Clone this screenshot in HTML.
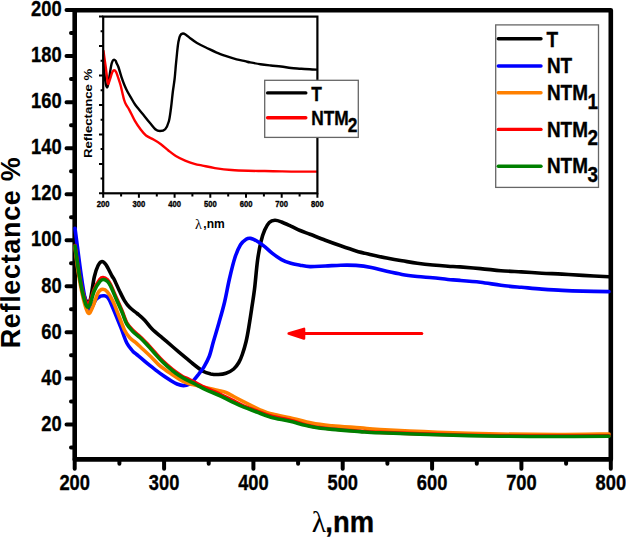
<!DOCTYPE html>
<html><head><meta charset="utf-8"><title>Reflectance</title>
<style>html,body{margin:0;padding:0;background:#fff;width:626px;height:537px;overflow:hidden}svg{display:block}</style>
</head><body>
<svg width="626" height="537" viewBox="0 0 626 537">
<rect width="626" height="537" fill="#fff"/>
<rect x="74.7" y="10.2" width="536.1" height="449.2" fill="none" stroke="#000" stroke-width="4.6" stroke-linejoin="round"/>
<path d="M66.5,424.4H74 M66.5,378.4H74 M66.5,332.3H74 M66.5,286.3H74 M66.5,240.3H74 M66.5,194.2H74 M66.5,148.2H74 M66.5,102.2H74 M66.5,56.1H74 M66.5,10.1H74 M71,447.4H74 M71,401.4H74 M71,355.3H74 M71,309.3H74 M71,263.3H74 M71,217.2H74 M71,171.2H74 M71,125.2H74 M71,79.1H74 M71,33.1H74 M74.7,459V468.7 M164.1,459V468.7 M253.4,459V468.7 M342.7,459V468.7 M432.1,459V468.7 M521.4,459V468.7 M610.8,459V468.7 M119.4,459V463.8 M208.7,459V463.8 M298.1,459V463.8 M387.4,459V463.8 M476.8,459V463.8 M566.1,459V463.8" stroke="#000" stroke-width="4" stroke-linecap="round" fill="none"/>
<path d="M75.5,249.0 C76.0,252.5 77.4,263.3 78.5,270.0 C79.6,276.7 80.8,284.1 82.0,289.0 C83.2,293.9 84.5,297.2 85.5,299.5 C86.5,301.8 87.0,302.7 87.8,302.5 C88.6,302.3 89.5,302.8 90.6,298.5 C91.7,294.2 93.0,282.5 94.3,277.0 C95.5,271.5 96.8,268.1 98.1,265.5 C99.4,262.9 100.7,261.6 102.0,261.5 C103.3,261.4 104.3,262.4 106.0,264.8 C107.7,267.2 110.5,273.4 112.0,276.0 C113.5,278.6 113.5,278.0 114.7,280.5 C115.9,283.0 117.8,287.4 119.4,290.8 C121.1,294.2 122.9,298.1 124.6,300.9 C126.3,303.7 127.7,305.5 129.8,307.6 C131.9,309.7 134.7,311.4 137.2,313.5 C139.7,315.6 142.2,317.6 144.7,320.2 C147.2,322.8 149.1,326.0 152.1,329.0 C155.1,332.0 159.1,335.1 162.6,338.1 C166.1,341.1 169.1,343.7 173.0,347.0 C176.9,350.3 182.6,355.1 185.9,357.9 C189.2,360.6 189.8,361.3 192.6,363.5 C195.4,365.7 200.0,369.5 203.0,371.2 C206.0,372.9 208.1,373.3 210.7,373.9 C213.2,374.4 215.8,374.6 218.3,374.5 C220.9,374.4 223.4,374.2 226.0,373.3 C228.6,372.4 231.6,370.8 233.7,369.0 C235.8,367.2 237.4,364.9 238.8,362.5 C240.2,360.1 241.1,358.0 242.3,354.5 C243.5,351.0 245.0,346.1 246.1,341.5 C247.2,336.9 248.0,332.1 248.9,326.6 C249.8,321.1 250.8,314.7 251.7,308.5 C252.6,302.3 253.5,297.4 254.5,289.3 C255.5,281.2 256.5,268.0 257.6,260.0 C258.7,252.0 259.8,246.5 261.0,241.5 C262.2,236.5 263.3,233.2 264.7,230.0 C266.1,226.8 267.6,224.1 269.3,222.5 C271.0,220.9 272.9,220.4 274.9,220.3 C276.9,220.2 278.9,221.0 281.5,222.0 C284.1,223.0 287.7,224.7 290.8,226.1 C293.9,227.5 296.9,229.1 300.1,230.5 C303.3,231.9 305.8,232.7 310.0,234.3 C314.2,235.9 320.2,238.3 325.3,240.2 C330.4,242.1 335.6,244.0 340.7,245.8 C345.8,247.6 350.9,249.4 356.0,250.9 C361.1,252.4 366.2,253.5 371.3,254.7 C376.4,255.9 381.6,257.1 386.7,258.1 C391.8,259.1 396.9,260.0 402.0,260.8 C407.1,261.6 412.2,262.5 417.3,263.2 C422.4,263.9 427.6,264.5 432.7,265.0 C437.8,265.5 443.4,265.9 448.0,266.2 C452.6,266.5 454.6,266.5 460.0,266.9 C465.4,267.3 473.6,268.0 480.4,268.6 C487.2,269.2 494.1,270.1 500.9,270.7 C507.7,271.2 514.5,271.5 521.3,271.9 C528.1,272.3 535.0,272.8 541.8,273.2 C548.6,273.6 555.4,273.7 562.2,274.1 C569.0,274.5 574.9,274.9 582.7,275.4 C590.5,275.8 604.6,276.6 609.0,276.8" stroke="#000" stroke-width="3.6" fill="none" stroke-linejoin="round" stroke-linecap="round"/>
<path d="M75.0,228.2 C75.4,231.5 76.5,240.0 77.6,248.0 C78.6,256.0 80.1,267.6 81.3,276.0 C82.5,284.4 83.8,292.7 85.0,298.2 C86.2,303.7 87.5,307.2 88.5,309.0 C89.5,310.8 89.8,310.6 91.0,309.0 C92.2,307.4 94.4,301.6 96.0,299.5 C97.6,297.4 99.1,296.8 100.5,296.2 C101.9,295.6 103.2,295.7 104.3,295.8 C105.4,295.9 106.1,296.1 107.0,296.8 C107.9,297.5 108.2,297.5 109.5,300.2 C110.8,302.9 113.0,308.2 114.9,312.8 C116.8,317.4 118.9,322.7 120.9,327.7 C122.9,332.7 124.8,339.1 126.8,343.0 C128.8,346.9 131.2,349.3 132.8,351.2 C134.5,353.1 134.9,353.0 136.7,354.5 C138.5,356.0 141.2,358.2 143.4,360.1 C145.6,362.0 147.9,363.9 150.1,365.7 C152.3,367.5 154.6,369.1 156.8,370.8 C159.0,372.5 161.2,374.2 163.5,375.8 C165.8,377.4 168.1,378.9 170.3,380.3 C172.6,381.7 174.8,383.1 177.0,384.0 C179.2,384.9 181.4,385.6 183.5,385.6 C185.6,385.6 187.6,385.1 189.3,384.2 C191.0,383.3 192.1,382.0 193.7,380.3 C195.3,378.6 197.1,376.2 198.8,374.0 C200.5,371.8 202.3,369.7 204.0,366.8 C205.7,363.9 207.6,360.6 209.2,356.5 C210.8,352.4 211.7,347.6 213.3,342.0 C214.9,336.4 217.0,329.7 218.9,323.0 C220.8,316.3 222.9,309.2 224.6,302.0 C226.3,294.8 227.6,286.9 229.3,279.5 C231.0,272.1 233.0,263.5 234.9,257.7 C236.8,251.9 238.6,247.8 240.5,244.7 C242.4,241.6 244.4,240.4 246.1,239.3 C247.8,238.2 248.8,238.1 250.7,238.4 C252.5,238.7 254.9,239.9 257.2,241.3 C259.5,242.7 262.2,244.6 264.7,246.6 C267.2,248.6 269.3,250.9 272.1,253.1 C274.9,255.3 278.4,257.9 281.5,259.6 C284.6,261.3 287.7,262.4 290.8,263.3 C293.9,264.2 296.9,264.6 300.1,265.2 C303.3,265.8 305.8,266.5 310.0,266.6 C314.2,266.7 320.2,266.2 325.3,266.0 C330.4,265.8 335.6,265.3 340.7,265.2 C345.8,265.1 350.9,265.0 356.0,265.4 C361.1,265.8 366.2,266.5 371.3,267.5 C376.4,268.5 381.6,270.2 386.7,271.3 C391.8,272.4 396.9,273.5 402.0,274.4 C407.1,275.3 412.2,275.9 417.3,276.5 C422.4,277.1 427.6,277.2 432.7,277.7 C437.8,278.2 443.4,279.1 448.0,279.5 C452.6,279.9 454.6,279.9 460.0,280.4 C465.4,280.8 473.6,281.4 480.4,282.2 C487.2,283.0 494.1,284.4 500.9,285.3 C507.7,286.2 514.5,286.7 521.3,287.3 C528.1,287.9 535.0,288.6 541.8,289.1 C548.6,289.6 555.4,290.1 562.2,290.4 C569.0,290.7 574.9,290.9 582.7,291.1 C590.5,291.3 604.6,291.5 609.0,291.6" stroke="#0000ff" stroke-width="3.6" fill="none" stroke-linejoin="round" stroke-linecap="round"/>
<path d="M75.0,247.0 C75.6,251.5 77.1,265.5 78.5,274.0 C79.9,282.5 81.6,291.7 83.2,298.2 C84.8,304.7 86.7,311.4 88.2,313.0 C89.8,314.6 90.8,310.9 92.5,307.5 C94.2,304.1 96.4,295.7 98.1,292.6 C99.8,289.6 101.2,289.3 102.7,289.2 C104.2,289.1 105.6,289.7 107.4,291.9 C109.2,294.1 111.4,298.1 113.4,302.3 C115.4,306.5 117.5,312.6 119.4,317.2 C121.3,321.8 122.9,326.8 124.6,330.2 C126.3,333.6 127.9,335.7 129.8,337.8 C131.7,339.9 133.6,340.7 135.8,342.6 C138.0,344.6 140.6,347.1 143.2,349.5 C145.8,351.9 148.5,354.4 151.2,357.0 C153.8,359.6 156.7,363.0 159.1,365.2 C161.5,367.4 163.6,368.6 165.8,370.2 C168.0,371.8 170.3,373.2 172.5,374.7 C174.7,376.2 177.0,377.8 179.2,379.1 C181.4,380.4 183.7,381.6 185.9,382.5 C188.1,383.4 190.2,383.9 192.6,384.5 C194.9,385.1 197.0,385.6 200.0,386.3 C203.0,387.0 207.8,388.1 210.8,388.8 C213.9,389.5 215.8,390.0 218.3,390.6 C220.8,391.2 223.4,391.5 226.0,392.5 C228.6,393.5 230.7,394.9 233.7,396.5 C236.7,398.1 241.1,400.4 243.9,401.8 C246.7,403.2 247.7,403.7 250.4,405.0 C253.1,406.3 256.6,408.3 260.0,409.8 C263.4,411.3 265.9,412.5 270.9,413.8 C275.9,415.1 283.2,416.1 290.0,417.7 C296.8,419.2 304.8,421.8 311.8,423.1 C318.8,424.5 324.2,425.0 332.2,425.8 C340.2,426.6 352.0,427.2 360.0,427.8 C368.0,428.4 367.1,428.9 380.0,429.6 C392.9,430.3 417.5,431.5 437.5,432.2 C457.5,432.9 480.0,433.6 500.0,434.0 C520.0,434.4 539.3,434.6 557.5,434.6 C575.7,434.6 600.4,434.1 609.0,434.0" stroke="#ff8000" stroke-width="3.6" fill="none" stroke-linejoin="round" stroke-linecap="round"/>
<path d="M75.0,245.5 C75.6,249.5 77.3,262.1 78.5,269.5 C79.7,276.9 81.0,284.3 82.2,289.8 C83.5,295.3 84.8,300.3 86.0,302.3 C87.2,304.3 88.3,304.2 89.7,302.0 C91.1,299.8 92.6,293.0 94.3,289.2 C96.0,285.4 98.5,281.2 99.9,279.3 C101.4,277.4 101.7,277.4 103.0,277.5 C104.3,277.6 106.3,278.7 107.5,279.8 C108.7,280.9 108.9,281.3 110.4,284.3 C111.9,287.3 114.4,293.5 116.4,298.0 C118.4,302.5 120.6,307.4 122.3,311.5 C124.0,315.6 125.0,319.7 126.8,322.8 C128.6,325.9 130.6,328.0 132.8,330.3 C135.0,332.6 137.7,334.5 140.2,336.8 C142.7,339.1 145.1,341.6 147.7,344.3 C150.3,347.1 153.2,350.6 155.7,353.3 C158.1,356.0 160.2,358.4 162.4,360.6 C164.6,362.8 166.9,364.7 169.1,366.6 C171.3,368.5 173.6,370.4 175.8,372.0 C178.1,373.6 180.3,375.2 182.6,376.5 C184.8,377.8 187.1,378.4 189.3,379.5 C191.5,380.6 193.2,381.4 195.9,382.8 C198.6,384.2 201.9,386.1 205.6,387.9 C209.3,389.6 214.1,391.4 218.3,393.3 C222.6,395.2 226.8,397.5 231.1,399.6 C235.4,401.7 239.6,404.2 243.9,406.1 C248.2,408.0 252.2,409.2 256.7,410.9 C261.2,412.6 265.3,414.6 270.9,416.1 C276.4,417.7 283.2,418.5 290.0,420.2 C296.8,421.9 304.8,424.8 311.8,426.3 C318.8,427.8 324.2,428.2 332.2,429.0 C340.2,429.8 352.0,430.6 360.0,431.2 C368.0,431.8 367.1,431.9 380.0,432.4 C392.9,432.9 417.5,433.8 437.5,434.4 C457.5,435.0 480.0,435.5 500.0,435.8 C520.0,436.1 539.3,436.1 557.5,436.1 C575.7,436.1 600.4,435.9 609.0,435.8" stroke="#ff0000" stroke-width="3.6" fill="none" stroke-linejoin="round" stroke-linecap="round"/>
<path d="M75.0,246.0 C75.6,250.1 77.3,262.8 78.5,270.3 C79.7,277.8 80.9,284.9 82.2,290.8 C83.5,296.7 85.2,303.4 86.5,305.8 C87.8,308.2 88.4,307.5 89.7,305.0 C91.0,302.5 92.6,294.7 94.3,290.8 C96.0,286.9 98.4,283.4 99.9,281.5 C101.4,279.6 102.2,279.5 103.5,279.5 C104.8,279.5 106.3,280.4 107.5,281.5 C108.7,282.6 108.9,282.8 110.4,285.8 C111.9,288.8 114.4,294.9 116.4,299.4 C118.4,303.9 120.6,308.7 122.3,312.8 C124.0,316.9 125.0,320.9 126.8,324.0 C128.6,327.1 130.6,329.1 132.8,331.4 C135.0,333.7 137.7,335.4 140.2,337.8 C142.7,340.2 145.1,342.7 147.7,345.5 C150.3,348.3 153.2,351.9 155.7,354.6 C158.1,357.3 160.2,359.6 162.4,361.8 C164.6,364.0 166.9,365.9 169.1,367.8 C171.3,369.7 173.6,371.6 175.8,373.2 C178.1,374.8 180.3,376.3 182.6,377.6 C184.8,378.9 187.1,380.1 189.3,381.2 C191.5,382.3 193.2,383.1 195.9,384.5 C198.6,385.9 201.9,387.9 205.6,389.6 C209.3,391.4 214.1,393.1 218.3,395.0 C222.6,396.9 226.8,399.3 231.1,401.3 C235.4,403.3 239.6,405.4 243.9,407.2 C248.2,409.0 252.2,410.3 256.7,412.0 C261.2,413.7 265.3,415.6 270.9,417.2 C276.4,418.8 283.2,419.7 290.0,421.3 C296.8,422.9 304.8,425.4 311.8,426.7 C318.8,428.0 324.2,428.6 332.2,429.4 C340.2,430.2 352.0,431.0 360.0,431.6 C368.0,432.2 367.1,432.3 380.0,432.8 C392.9,433.3 417.5,434.2 437.5,434.8 C457.5,435.4 480.0,435.9 500.0,436.2 C520.0,436.5 539.3,436.5 557.5,436.5 C575.7,436.5 600.4,436.2 609.0,436.2" stroke="#008000" stroke-width="3.6" fill="none" stroke-linejoin="round" stroke-linecap="round"/>
<g font-family='"Liberation Sans", sans-serif' font-weight="bold" fill="#000" stroke="#000" stroke-width="0.35">
<text transform="translate(61.60,430.60) scale(0.825,1)" font-size="22.20" text-anchor="end">20</text>
<text transform="translate(61.60,384.57) scale(0.825,1)" font-size="22.20" text-anchor="end">40</text>
<text transform="translate(61.60,338.53) scale(0.825,1)" font-size="22.20" text-anchor="end">60</text>
<text transform="translate(61.60,292.50) scale(0.825,1)" font-size="22.20" text-anchor="end">80</text>
<text transform="translate(61.60,246.47) scale(0.825,1)" font-size="22.20" text-anchor="end">100</text>
<text transform="translate(61.60,200.43) scale(0.825,1)" font-size="22.20" text-anchor="end">120</text>
<text transform="translate(61.60,154.40) scale(0.825,1)" font-size="22.20" text-anchor="end">140</text>
<text transform="translate(61.60,108.37) scale(0.825,1)" font-size="22.20" text-anchor="end">160</text>
<text transform="translate(61.60,62.33) scale(0.825,1)" font-size="22.20" text-anchor="end">180</text>
<text transform="translate(61.60,16.30) scale(0.825,1)" font-size="22.20" text-anchor="end">200</text>
<text transform="translate(74.70,490.20) scale(0.825,1)" font-size="22.20" text-anchor="middle">200</text>
<text transform="translate(164.05,490.20) scale(0.825,1)" font-size="22.20" text-anchor="middle">300</text>
<text transform="translate(253.40,490.20) scale(0.825,1)" font-size="22.20" text-anchor="middle">400</text>
<text transform="translate(342.75,490.20) scale(0.825,1)" font-size="22.20" text-anchor="middle">500</text>
<text transform="translate(432.10,490.20) scale(0.825,1)" font-size="22.20" text-anchor="middle">600</text>
<text transform="translate(521.45,490.20) scale(0.825,1)" font-size="22.20" text-anchor="middle">700</text>
<text transform="translate(610.80,490.20) scale(0.825,1)" font-size="22.20" text-anchor="middle">800</text>
</g>
<text x="311.8" y="532" font-family="'Liberation Serif', serif" font-size="29.5" fill="#000">&#955;</text>
<g font-family='"Liberation Sans", sans-serif' font-weight="bold" fill="#000" stroke="#000" stroke-width="0.35">
<text transform="translate(325.30,532.00) scale(0.945,1)" font-size="29.00">,nm</text>
</g>
<text transform="translate(20,348.3) rotate(-90)" font-family='"Liberation Sans", sans-serif' font-weight="bold" font-size="27" letter-spacing="0.66" fill="#000">Reflectance %</text>
<path d="M99.0,16.6H103.2 M100.6,31.3H103.2 M99.0,46.1H103.2 M100.6,60.8H103.2 M99.0,75.5H103.2 M100.6,90.2H103.2 M99.0,105.0H103.2 M100.6,119.7H103.2 M99.0,134.4H103.2 M100.6,149.1H103.2 M99.0,163.9H103.2 M100.6,178.6H103.2 M99.0,193.3H103.2 M103.2,193.3V197.8 M138.9,193.3V197.8 M174.6,193.3V197.8 M210.3,193.3V197.8 M246.0,193.3V197.8 M281.7,193.3V197.8 M317.4,193.3V197.8 M121.1,193.3V196.6 M156.8,193.3V196.6 M192.4,193.3V196.6 M228.2,193.3V196.6 M263.9,193.3V196.6 M299.6,193.3V196.6" stroke="#000" stroke-width="2" fill="none"/>
<path d="M103.5,55.0 C103.6,56.8 103.7,62.3 103.9,66.0 C104.1,69.7 104.5,73.9 104.8,77.0 C105.1,80.1 105.6,82.8 105.9,84.5 C106.2,86.2 106.6,87.3 106.9,87.4 C107.2,87.5 107.6,86.9 108.0,85.0 C108.4,83.1 109.0,79.2 109.5,76.0 C110.0,72.8 110.7,68.0 111.2,65.5 C111.7,63.0 112.1,62.0 112.6,61.0 C113.1,60.0 113.6,59.6 114.1,59.6 C114.6,59.6 115.4,60.5 115.8,61.0 C116.2,61.5 116.0,61.8 116.4,62.8 C116.8,63.8 117.6,64.6 118.4,67.0 C119.2,69.4 120.5,74.1 121.5,77.2 C122.5,80.3 123.6,83.1 124.6,85.5 C125.6,87.9 126.4,89.6 127.4,91.5 C128.4,93.4 129.2,94.7 130.5,96.8 C131.8,98.9 132.9,101.4 134.9,104.2 C136.9,107.0 139.8,110.4 142.3,113.5 C144.8,116.6 147.6,120.2 149.8,122.8 C152.0,125.4 153.6,127.8 155.3,129.2 C157.0,130.6 158.3,131.0 160.0,131.0 C161.7,131.0 163.7,130.8 165.2,129.2 C166.7,127.6 167.8,125.0 168.8,121.5 C169.8,118.0 170.3,112.9 171.0,108.0 C171.7,103.1 172.2,96.8 172.8,92.0 C173.4,87.2 174.1,83.5 174.6,79.0 C175.1,74.5 175.5,69.1 175.9,64.7 C176.3,60.3 176.7,56.3 177.1,52.5 C177.5,48.7 177.9,44.8 178.4,42.0 C178.9,39.2 179.3,37.0 180.1,35.6 C180.8,34.2 181.9,33.6 182.9,33.5 C183.9,33.4 184.8,34.1 186.1,34.9 C187.4,35.7 188.8,37.1 190.6,38.5 C192.4,39.9 194.4,41.5 197.0,43.0 C199.6,44.5 202.7,46.0 205.9,47.5 C209.1,49.0 212.7,50.8 216.1,52.3 C219.5,53.8 222.9,55.0 226.3,56.2 C229.7,57.4 233.5,58.6 236.6,59.4 C239.7,60.2 242.7,60.7 245.0,61.2 C247.3,61.7 247.6,61.9 250.2,62.4 C252.8,62.9 257.0,63.7 260.4,64.2 C263.8,64.7 267.3,65.1 270.7,65.5 C274.1,65.9 277.5,66.1 280.9,66.5 C284.3,66.9 287.7,67.6 291.1,68.0 C294.5,68.4 297.1,68.4 301.3,68.7 C305.5,69.0 314.0,69.4 316.5,69.6" stroke="#000" stroke-width="2.4" fill="none" stroke-linejoin="round" stroke-linecap="round"/>
<path d="M103.5,51.0 C103.7,52.2 104.1,55.5 104.5,58.5 C104.9,61.5 105.6,65.8 106.0,69.0 C106.4,72.2 106.8,75.5 107.1,78.0 C107.4,80.5 107.7,83.1 108.0,83.8 C108.3,84.5 108.7,83.0 109.1,82.0 C109.5,81.0 110.1,79.1 110.6,77.5 C111.1,75.9 111.7,73.5 112.3,72.3 C112.9,71.1 113.5,70.4 114.1,70.3 C114.7,70.2 115.4,70.8 116.0,71.8 C116.6,72.8 116.8,73.8 117.6,76.0 C118.3,78.2 119.7,82.2 120.5,85.0 C121.3,87.8 121.7,90.1 122.3,92.5 C122.9,94.9 123.4,97.5 124.0,99.5 C124.6,101.5 125.1,102.8 126.0,104.5 C126.9,106.2 127.8,107.1 129.3,109.8 C130.8,112.5 133.0,117.7 134.9,120.9 C136.8,124.2 138.7,126.9 140.5,129.3 C142.3,131.7 143.8,133.8 146.0,135.5 C148.2,137.2 151.0,138.1 153.5,139.5 C156.0,140.9 158.4,142.4 160.9,144.2 C163.4,146.0 165.9,148.5 168.4,150.5 C170.9,152.5 173.0,154.3 175.8,156.0 C178.6,157.7 182.0,159.3 185.1,160.6 C188.2,161.9 191.5,163.0 194.4,163.8 C197.3,164.6 199.1,164.9 202.5,165.6 C205.9,166.3 210.1,167.4 214.9,168.1 C219.7,168.8 225.9,169.6 231.5,170.0 C237.1,170.4 242.6,170.6 248.2,170.8 C253.8,171.0 259.3,170.9 264.8,171.0 C270.3,171.1 275.9,171.3 281.4,171.4 C286.9,171.5 292.1,171.6 298.0,171.6 C303.9,171.6 313.4,171.6 316.5,171.6" stroke="#ff0000" stroke-width="2.4" fill="none" stroke-linejoin="round" stroke-linecap="round"/>
<rect x="103.2" y="16.6" width="214.2" height="176.7" fill="none" stroke="#000" stroke-width="2.2"/>
<g font-family='"Liberation Sans", sans-serif' font-weight="bold" fill="#000" stroke="#000" stroke-width="0.35">
<text transform="translate(103.20,207.20) scale(0.850,1)" font-size="9.00" text-anchor="middle">200</text>
<text transform="translate(138.90,207.20) scale(0.850,1)" font-size="9.00" text-anchor="middle">300</text>
<text transform="translate(174.60,207.20) scale(0.850,1)" font-size="9.00" text-anchor="middle">400</text>
<text transform="translate(210.30,207.20) scale(0.850,1)" font-size="9.00" text-anchor="middle">500</text>
<text transform="translate(246.00,207.20) scale(0.850,1)" font-size="9.00" text-anchor="middle">600</text>
<text transform="translate(281.70,207.20) scale(0.850,1)" font-size="9.00" text-anchor="middle">700</text>
<text transform="translate(317.40,207.20) scale(0.850,1)" font-size="9.00" text-anchor="middle">800</text>
</g>
<text x="195.1" y="228.9" font-family="'Liberation Serif', serif" font-size="14.2" fill="#000">&#955;</text>
<g font-family='"Liberation Sans", sans-serif' font-weight="bold" fill="#000">
<text transform="translate(203.30,228.00) scale(0.930,1)" font-size="13.00">,nm</text>
</g>
<text transform="translate(91.5,158) rotate(-90) scale(1.2,1)" font-family='"Liberation Sans", sans-serif' font-weight="bold" font-size="11" fill="#000">Reflectance %</text>
<rect x="264.7" y="80.3" width="93.6" height="57.1" fill="#fff" stroke="#666" stroke-width="1.3"/>
<path d="M267.6,92.9H305.8" stroke="#000" stroke-width="3.4" stroke-linecap="round"/>
<path d="M267.6,117.7H305.8" stroke="#ff0000" stroke-width="3.4" stroke-linecap="round"/>
<g font-family='"Liberation Sans", sans-serif' font-weight="bold" fill="#000" stroke="#000" stroke-width="0.35">
<text transform="translate(311.20,100.60) scale(0.850,1)" font-size="20.40">T</text>
<text transform="translate(311.20,124.80) scale(0.850,1)" font-size="20.40">NTM</text>
<text transform="translate(347.80,132.40) scale(0.850,1)" font-size="20.40">2</text>
</g>
<rect x="495.7" y="24.9" width="102.8" height="162.5" fill="#fff" stroke="#666" stroke-width="1.3"/>
<path d="M498.3,38.8H541" stroke="#000" stroke-width="3.4" stroke-linecap="round"/>
<path d="M498.3,66.0H541" stroke="#0000ff" stroke-width="3.4" stroke-linecap="round"/>
<path d="M498.3,92.8H541" stroke="#ff8000" stroke-width="3.4" stroke-linecap="round"/>
<path d="M498.3,129.4H541" stroke="#ff0000" stroke-width="3.4" stroke-linecap="round"/>
<path d="M498.3,166.2H541" stroke="#008000" stroke-width="3.4" stroke-linecap="round"/>
<g font-family='"Liberation Sans", sans-serif' font-weight="bold" fill="#000" stroke="#000" stroke-width="0.35">
<text transform="translate(546.50,46.50) scale(0.850,1)" font-size="22.30">T</text>
<text transform="translate(546.90,73.00) scale(0.850,1)" font-size="22.30">NT</text>
<text transform="translate(546.90,100.30) scale(0.850,1)" font-size="22.30">NTM</text>
<text transform="translate(587.40,108.80) scale(0.850,1)" font-size="22.30">1</text>
<text transform="translate(546.90,136.60) scale(0.850,1)" font-size="22.30">NTM</text>
<text transform="translate(587.40,145.20) scale(0.850,1)" font-size="22.30">2</text>
<text transform="translate(546.90,173.30) scale(0.850,1)" font-size="22.30">NTM</text>
<text transform="translate(587.40,182.20) scale(0.850,1)" font-size="22.30">3</text>
</g>
<path d="M303,333.6H421.8" stroke="#ff0000" stroke-width="3" stroke-linecap="round"/>
<path d="M288.7,333.6L304,328.9L304,338.4Z" fill="#ff0000" stroke="#ff0000" stroke-width="2.6" stroke-linejoin="round"/>
</svg>
</body></html>
